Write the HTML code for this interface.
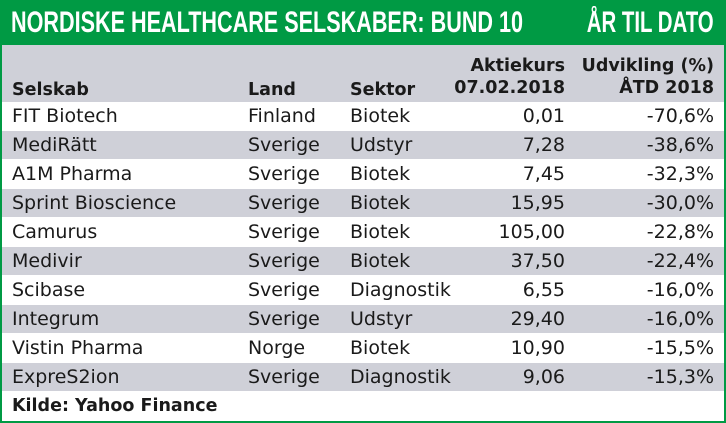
<!DOCTYPE html>
<html><head><meta charset="utf-8"><style>
*{margin:0;padding:0;box-sizing:border-box}
body{width:726px;height:423px;background:#fff;position:relative;overflow:hidden;font-family:"DejaVu Sans","Liberation Sans",sans-serif}
.frame{position:absolute;left:0;top:0;width:726px;height:423px;border:2px solid #009a44}
.title{position:absolute;left:0;top:0;width:726px;height:45px;background:#009a44;color:#fff;font-family:"Liberation Sans Narrow","Liberation Sans",sans-serif;font-weight:bold;font-size:30px;line-height:45px}
.title span{position:absolute;top:0;white-space:nowrap}
.hdr{position:absolute;left:2px;top:45px;width:722px;height:57px;background:#cfd0d8}
.row{position:absolute;left:2px;width:722px;height:28px;font-size:19px;color:#1a1a1a}
.g{background:#cfd0d8}
.c{position:absolute;top:0;line-height:28px;white-space:nowrap}
.h{position:absolute;font-weight:bold;font-size:17.5px;color:#1a1a1a;white-space:nowrap;line-height:22px}
</style></head><body>
<div class="title"><span style="left:11px;transform:scaleX(0.72);transform-origin:left center">NORDISKE HEALTHCARE SELSKABER: BUND 10</span><span style="right:12px;transform:scaleX(0.68);transform-origin:right center">ÅR TIL DATO</span></div>
<div class="hdr"></div>
<div class="h" style="left:12px;top:79px">Selskab</div>
<div class="h" style="left:248px;top:79px">Land</div>
<div class="h" style="left:350px;top:79px">Sektor</div>
<div class="h" style="right:161px;top:55px;text-align:right">Aktiekurs<br>07.02.2018</div>
<div class="h" style="right:12px;top:55px;text-align:right">Udvikling (%)<br>ÅTD 2018</div>
<div class="row" style="top:102px"><span class="c" style="left:10px">FIT Biotech</span><span class="c" style="left:246px">Finland</span><span class="c" style="left:348px">Biotek</span><span class="c" style="right:159px">0,01</span><span class="c" style="right:10px">-70,6%</span></div>
<div class="row g" style="top:131px"><span class="c" style="left:10px">MediRätt</span><span class="c" style="left:246px">Sverige</span><span class="c" style="left:348px">Udstyr</span><span class="c" style="right:159px">7,28</span><span class="c" style="right:10px">-38,6%</span></div>
<div class="row" style="top:160px"><span class="c" style="left:10px">A1M Pharma</span><span class="c" style="left:246px">Sverige</span><span class="c" style="left:348px">Biotek</span><span class="c" style="right:159px">7,45</span><span class="c" style="right:10px">-32,3%</span></div>
<div class="row g" style="top:189px"><span class="c" style="left:10px">Sprint Bioscience</span><span class="c" style="left:246px">Sverige</span><span class="c" style="left:348px">Biotek</span><span class="c" style="right:159px">15,95</span><span class="c" style="right:10px">-30,0%</span></div>
<div class="row" style="top:218px"><span class="c" style="left:10px">Camurus</span><span class="c" style="left:246px">Sverige</span><span class="c" style="left:348px">Biotek</span><span class="c" style="right:159px">105,00</span><span class="c" style="right:10px">-22,8%</span></div>
<div class="row g" style="top:247px"><span class="c" style="left:10px">Medivir</span><span class="c" style="left:246px">Sverige</span><span class="c" style="left:348px">Biotek</span><span class="c" style="right:159px">37,50</span><span class="c" style="right:10px">-22,4%</span></div>
<div class="row" style="top:276px"><span class="c" style="left:10px">Scibase</span><span class="c" style="left:246px">Sverige</span><span class="c" style="left:348px">Diagnostik</span><span class="c" style="right:159px">6,55</span><span class="c" style="right:10px">-16,0%</span></div>
<div class="row g" style="top:305px"><span class="c" style="left:10px">Integrum</span><span class="c" style="left:246px">Sverige</span><span class="c" style="left:348px">Udstyr</span><span class="c" style="right:159px">29,40</span><span class="c" style="right:10px">-16,0%</span></div>
<div class="row" style="top:334px"><span class="c" style="left:10px">Vistin Pharma</span><span class="c" style="left:246px">Norge</span><span class="c" style="left:348px">Biotek</span><span class="c" style="right:159px">10,90</span><span class="c" style="right:10px">-15,5%</span></div>
<div class="row g" style="top:363px"><span class="c" style="left:10px">ExpreS2ion</span><span class="c" style="left:246px">Sverige</span><span class="c" style="left:348px">Diagnostik</span><span class="c" style="right:159px">9,06</span><span class="c" style="right:10px">-15,3%</span></div>
<div class="h" style="left:12px;top:395px">Kilde: Yahoo Finance</div>
<div class="frame"></div>
</body></html>
